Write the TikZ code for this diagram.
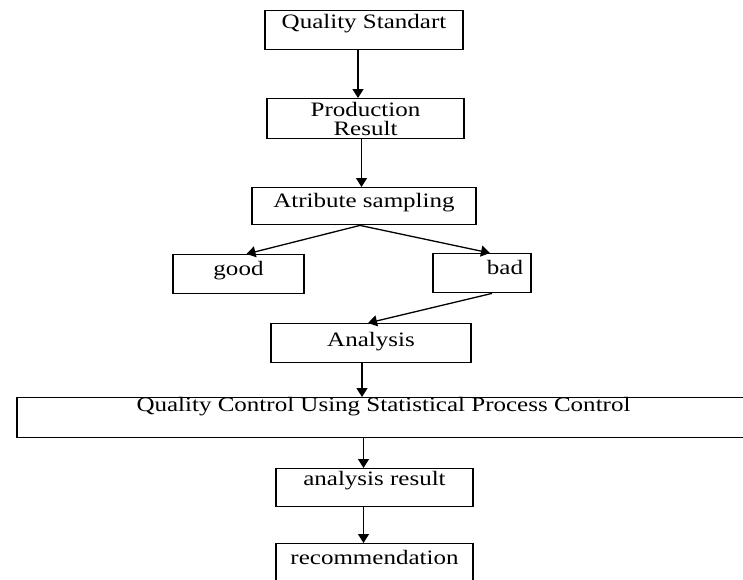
\documentclass[tikz,border=0pt]{standalone}
\usepackage{fontspec}
\setmainfont{Liberation Serif}[FakeStretch=1.22]
\usetikzlibrary{arrows.meta,positioning}
\tikzset{>={Triangle[length=9pt,width=11pt]}}
\tikzset{box/.style={draw, line width=1.4pt, inner sep=0pt, align=center,
    anchor=north, font=\fontsize{20.5}{19}\selectfont}}
\tikzset{flow/.style={->, line width=1.3pt}}
\begin{document}
\begin{tikzpicture}[x=1pt,y=-1pt]
  \useasboundingbox (0,0) rectangle (743,579);
  \clip (0,0) rectangle (743,579);
  \node[box, minimum width=198pt, text height=18pt, text depth=21pt] (standard) at (364,10) {Quality Standart};
  \node[box, minimum width=197pt, minimum height=40pt] (production) at (365.5,98) {Production\\Result};
  \node[box, minimum width=224pt, text height=20pt, text depth=17pt] (sampling) at (364,187) {Atribute sampling};
  \node[box, minimum width=131pt, text height=21pt, text depth=18pt] (good) at (238.5,254) {good};
  \node[box, text width=82pt, inner xsep=8pt, align=right, text height=21pt, text depth=18pt] (bad) at (482,253) {bad};
  \node[box, minimum width=200pt, text height=23pt, text depth=16pt] (analysis) at (371,323) {Analysis};
  % runs past the right edge
  \node[box, minimum width=733pt, text height=14pt, text depth=26pt] (spc) at (383.5,397) {Quality Control Using Statistical Process Control};
  \node[box, minimum width=197pt, text height=17pt, text depth=21pt] (result) at (374.5,468) {analysis result};
  \node[box, minimum width=197pt, text height=21pt, text depth=17pt] (recommend) at (374.5,543) {recommendation};

  \draw[flow] ([xshift=-6pt]standard.south) -- ([xshift=-6pt]standard.south |- production.north);
  \draw[flow] ([xshift=-4pt]production.south) -- ([xshift=-4pt]production.south |- sampling.north);
  \draw[flow] ([xshift=-4pt]sampling.south) -- ([xshift=8pt]good.north);
  \draw[flow] ([xshift=-4pt]sampling.south) -- ([xshift=8pt]bad.north);
  \draw[flow] ([xshift=10pt]bad.south) -- ([xshift=-3pt]analysis.north);
  \draw[flow] ([xshift=-9pt]analysis.south) -- ([xshift=-9pt]analysis.south |- spc.north);
  \draw[flow] ([xshift=-11pt]result.north |- spc.south) -- ([xshift=-11pt]result.north);
  \draw[flow] ([xshift=-11pt]result.south) -- ([xshift=-11pt]recommend.north);
\end{tikzpicture}
\end{document}
